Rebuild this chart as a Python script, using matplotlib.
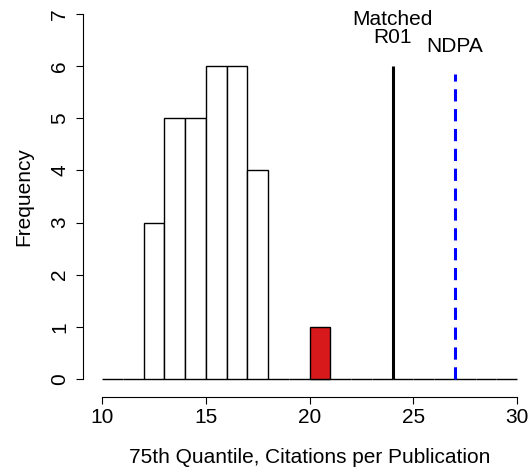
import matplotlib
matplotlib.use("Agg")
import matplotlib.pyplot as plt
import numpy as np

plt.rcParams['font.family'] = ['Liberation Sans', 'DejaVu Sans']

# histogram of 75th quantile citations per publication, bin width 1
bin_edges = np.arange(10, 31, 1)
counts = [0, 0, 3, 5, 5, 6, 6, 4, 0, 0, 0, 0, 0, 0, 0, 0, 0, 0, 0, 0]
red_left = 20
red_count = 1
r01_x = 24
r01_height = 6
ndpa_x = 27
ndpa_height = 5.85

fig = plt.figure(figsize=(5.31, 4.75), dpi=100)
ax = fig.add_axes([0.161, 0.1714, 0.844, 0.83])

ax.bar(bin_edges[:-1], counts, width=1, align='edge', color='white',
       edgecolor='black', linewidth=1)
ax.bar([red_left], [red_count], width=1, align='edge', color='#d7191c',
       edgecolor='black', linewidth=1)

ax.plot([r01_x, r01_x], [0, r01_height], color='black', linewidth=2.2,
        solid_capstyle='butt')
ax.plot([ndpa_x, ndpa_x], [0, ndpa_height], color='blue', linewidth=2.2,
        linestyle=(0, (4, 2.5)), dash_capstyle='butt')

ax.text(r01_x, 6.89, "Matched", ha='center', va='center', fontsize=15)
ax.text(r01_x, 6.54, "R01", ha='center', va='center', fontsize=15)
ax.text(ndpa_x, 6.37, "NDPA", ha='center', va='center', fontsize=15)

ax.set_xlim(9.2, 30.8)
ax.set_ylim(-0.28, 7.28)
ax.set_xticks([10, 15, 20, 25, 30])
ax.set_yticks(range(0, 8))

for s in ['top', 'right']:
    ax.spines[s].set_visible(False)
ax.spines['left'].set_position(('outward', 1.7))
ax.spines['bottom'].set_position(('outward', 2.5))
ax.spines['left'].set_bounds(0, 7)
ax.spines['bottom'].set_bounds(10, 30)
ax.tick_params(axis='both', length=5, width=0.8, labelsize=15)
ax.tick_params(axis='x', pad=3)
ax.tick_params(axis='y', pad=5, labelrotation=90)
for lab in ax.get_yticklabels():
    lab.set_va('center')

ax.set_xlabel("75th Quantile, Citations per Publication", fontsize=15, labelpad=15)
ax.set_ylabel("Frequency", fontsize=15, labelpad=12)

fig.savefig("out.png", dpi=100)
